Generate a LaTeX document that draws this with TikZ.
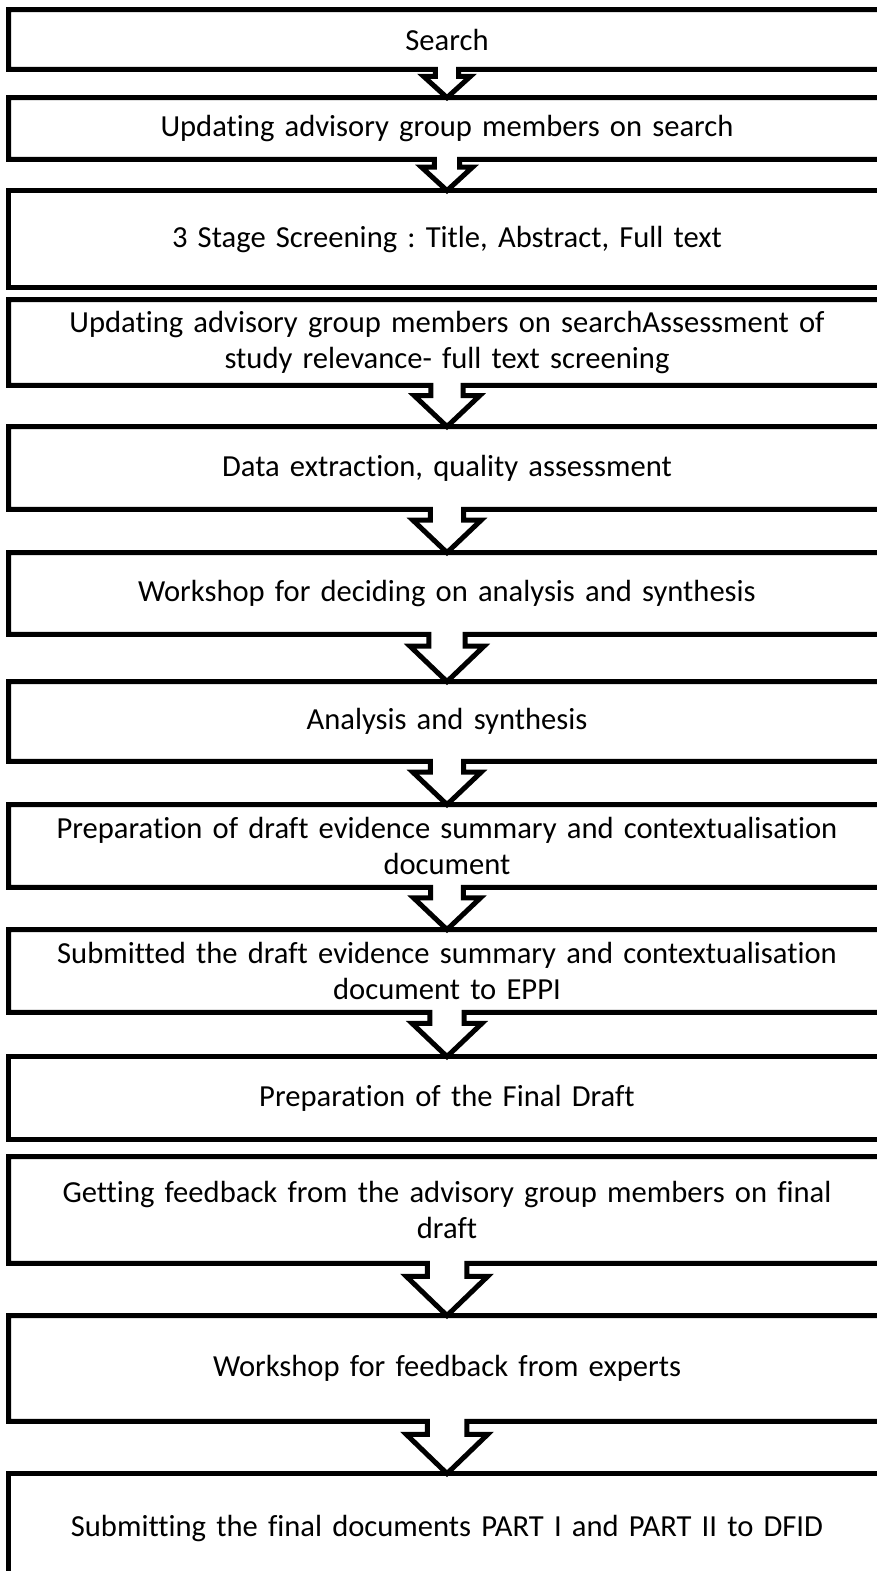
\documentclass[tikz,border=0pt]{standalone}
\usepackage{fontspec}
\setmainfont{Carlito}[Ligatures={NoCommon}]
\usetikzlibrary{calc}
\frenchspacing
\tikzset{
  stepbox/.style={draw=none, inner sep=0pt, minimum width=438pt, minimum height=#1*0.5pt,
    text width=432pt, align=center, font=\fontsize{15.3pt}{18pt}\selectfont},
  outline/.style={line width=2.5pt, line join=miter, miter limit=10, black}
}
% box #1 whose bottom edge grows into a block arrow pointing at box #2
\newcommand{\boxarrow}[2]{%
  \draw[outline] let \p1=(#1.south), \p2=(#2.north), \n1={\y1-\y2},
      \n2={0.34*\n1+1}, \n3={0.72*\n1+1.5}, \n4={0.25*\n1} in
    (#1.south east) -- (#1.north east) -- (#1.north west) -- (#1.south west)
    -- (\x1-\n2*1pt,\y1) -- (\x1-\n2*1pt,\y1-\n4*1pt) -- (\x1-\n3*1pt,\y1-\n4*1pt)
    -- (\x2,\y2) -- (\x1+\n3*1pt,\y1-\n4*1pt) -- (\x1+\n2*1pt,\y1-\n4*1pt)
    -- (\x1+\n2*1pt,\y1) -- (#1.south east);
}
\newcommand{\plainbox}[1]{%
  \draw[outline] (#1.south west) rectangle (#1.north east);
}
\begin{document}
\begin{tikzpicture}[x=0.5pt,y=-0.5pt]
\useasboundingbox (0,0) rectangle (877,1571);
\clip (0,0) rectangle (877,1571);
\fill[white] (0,0) rectangle (877,1571);

\node[stepbox=59]  (b1)  at (447,39.5)  {Search};
\node[stepbox=61]  (b2)  at (447,128.5) {Updating advisory group members on search};
\node[stepbox=96]  (b3)  at (447,239)   {3 Stage Screening : Title, Abstract, Full text};
\node[stepbox=85]  (b4)  at (447,342.5) {Updating advisory group members on searchAssessment of\\study relevance- full text screening};
\node[stepbox=82]  (b5)  at (447,468)   {Data extraction, quality assessment};
\node[stepbox=81]  (b6)  at (447,593.5) {Workshop for deciding on analysis and synthesis};
\node[stepbox=79]  (b7)  at (447,721.5) {Analysis and synthesis};
\node[stepbox=82]  (b8)  at (447,846)   {Preparation of draft evidence summary and contextualisation\\document};
\node[stepbox=82]  (b9)  at (447,971)   {Submitted the draft evidence summary and contextualisation\\document to EPPI};
\node[stepbox=82]  (b10) at (447,1098)  {Preparation of the Final Draft};
\node[stepbox=106] (b11) at (447,1210)  {Getting feedback from the advisory group members on final\\draft};
\node[stepbox=105] (b12) at (447,1368.5){Workshop for feedback from experts};
\node[stepbox=108] (b13) at (447,1528)  {Submitting the final documents PART I and PART II to DFID};

\boxarrow{b1}{b2}
\boxarrow{b2}{b3}
\plainbox{b3}
\boxarrow{b4}{b5}
\boxarrow{b5}{b6}
\boxarrow{b6}{b7}
\boxarrow{b7}{b8}
\boxarrow{b8}{b9}
\boxarrow{b9}{b10}
\plainbox{b10}
\boxarrow{b11}{b12}
\boxarrow{b12}{b13}
\plainbox{b13}
\end{tikzpicture}
\end{document}
